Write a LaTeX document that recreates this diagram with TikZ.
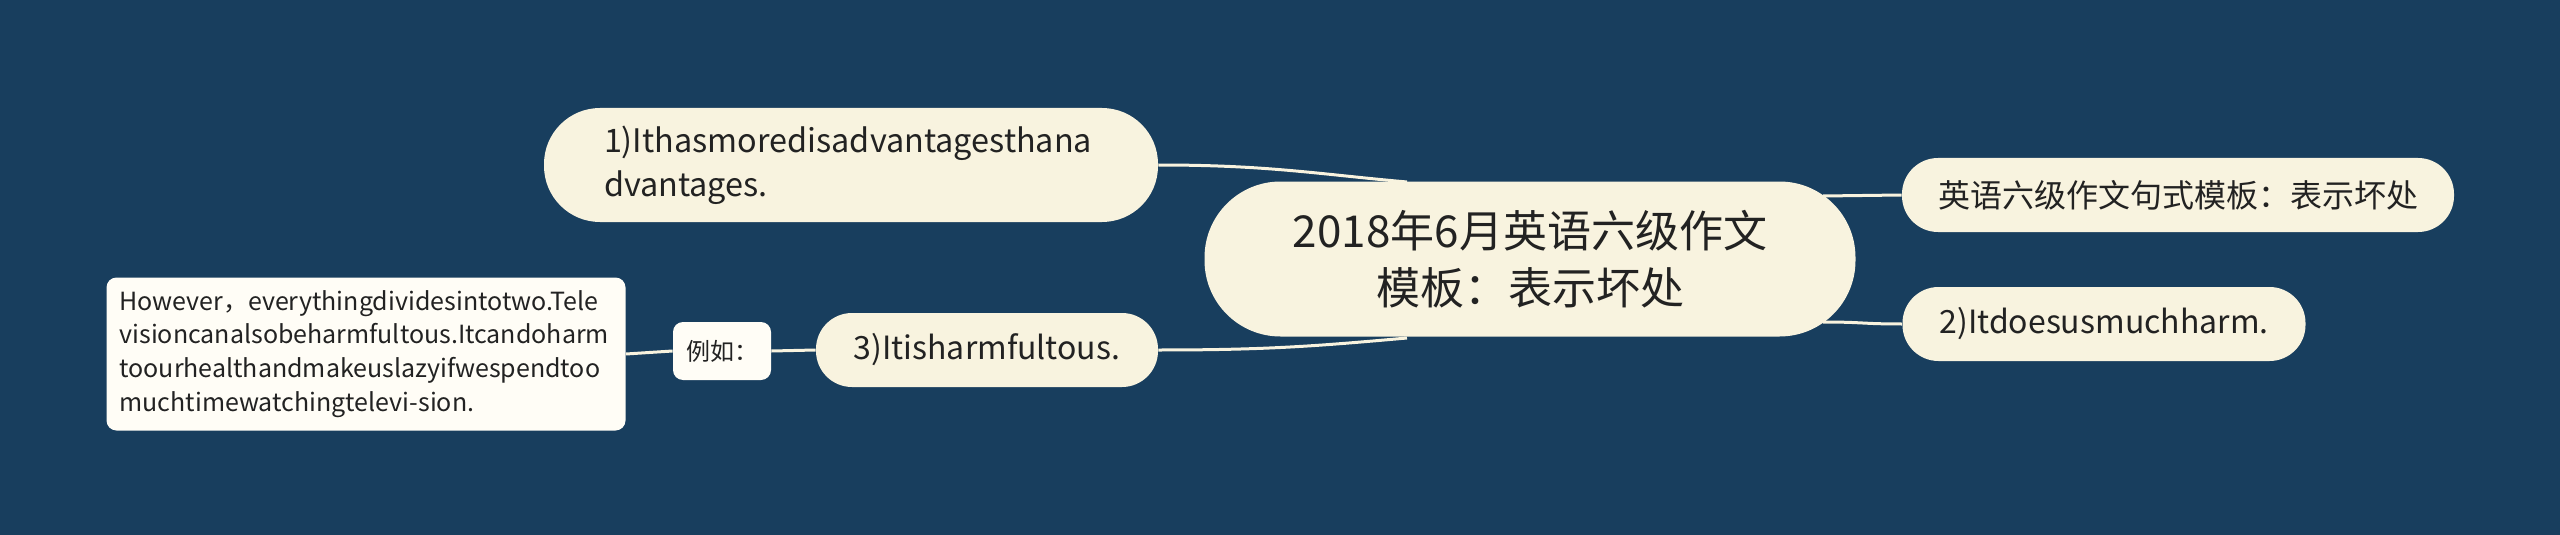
\documentclass[tikz,border=0pt]{standalone}
\usepackage{fontspec}
\setmainfont{Noto Sans CJK SC}
\usetikzlibrary{backgrounds,calc}
\definecolor{bg}{HTML}{183E5E}
\definecolor{cream}{HTML}{F8F3DF}
\definecolor{paper}{HTML}{FFFDF6}
\definecolor{ink}{HTML}{222222}
\begin{document}
\begin{tikzpicture}[x=0.5pt,y=-0.5pt,
  pill/.style={fill=cream, text=ink, inner sep=0pt},
  card/.style={fill=paper, text=ink, inner sep=0pt, rounded corners=5pt},
  link/.style={draw=cream, line width=1.5pt},
]
\useasboundingbox (0,0) rectangle (2560,535);
% nodes
\node[pill, minimum width=325.5pt, minimum height=77.5pt, rounded corners=38pt,
  align=center, font=\fontsize{22pt}{28.5pt}\selectfont] (c) at (1530,259)
  {2018年6月英语六级作文\\模板：表示坏处};
\node[pill, minimum width=307pt, minimum height=57pt, rounded corners=28pt,
  text width=247pt, align=left, font=\fontsize{16.2pt}{22pt}\selectfont] (n1) at (851,165)
  {1)Ithasmoredisadvantagesthana\\dvantages.};
\node[pill, minimum width=276pt, minimum height=37pt, rounded corners=18pt,
  font=\fontsize{16pt}{20pt}\selectfont] (n4) at (2178,195)
  {英语六级作文句式模板：表示坏处};
\node[pill, minimum width=201.5pt, minimum height=37pt, rounded corners=18pt,
  font=\fontsize{16pt}{20pt}\selectfont] (n2) at (2104,324)
  {2)Itdoesusmuchharm.};
\node[pill, minimum width=171pt, minimum height=37pt, rounded corners=18pt,
  font=\fontsize{16pt}{20pt}\selectfont] (n3) at (987,350)
  {3)Itisharmfultous.};
\node[card, minimum width=49pt, minimum height=29pt, rounded corners=5pt,
  font=\fontsize{12pt}{14pt}\selectfont] (ex) at (722,351) {例如：};
\node[card, minimum width=259.5pt, minimum height=76.5pt, text width=246.5pt,
  align=left, font=\fontsize{12.5pt}{16.9pt}\selectfont] (box) at (366,354)
  {However，everythingdividesintotwo.Tele\\visioncanalsobeharmfultous.Itcandoharm\\toourhealthandmakeuslazyifwespendtoo\\muchtimewatchingtelevi-sion.};
% anchor points on the central node
\coordinate (c1) at ($(c.center)+(-123,-77)$);
\coordinate (c3) at ($(c.center)+(-123,79)$);
\coordinate (c4) at ($(c.center)+(293,-63)$);
\coordinate (c2) at ($(c.center)+(293,63)$);
\begin{scope}[on background layer]
  \fill[bg] (0,0) rectangle (2560,535);
  \draw[link] (n1.east) .. controls +(110,0) and +(-90,-8) .. (c1);
  \draw[link] (n3.east) .. controls +(110,0) and +(-90,8) .. (c3);
  \draw[link] (c4) .. controls +(40,0) and +(-40,0) .. (n4.west);
  \draw[link] (c2) .. controls +(40,0) and +(-40,0) .. (n2.west);
  \draw[link] (n3.west) -- (ex.east);
  \draw[link] (ex.west) -- (box.east);
\end{scope}
\end{tikzpicture}
\end{document}
